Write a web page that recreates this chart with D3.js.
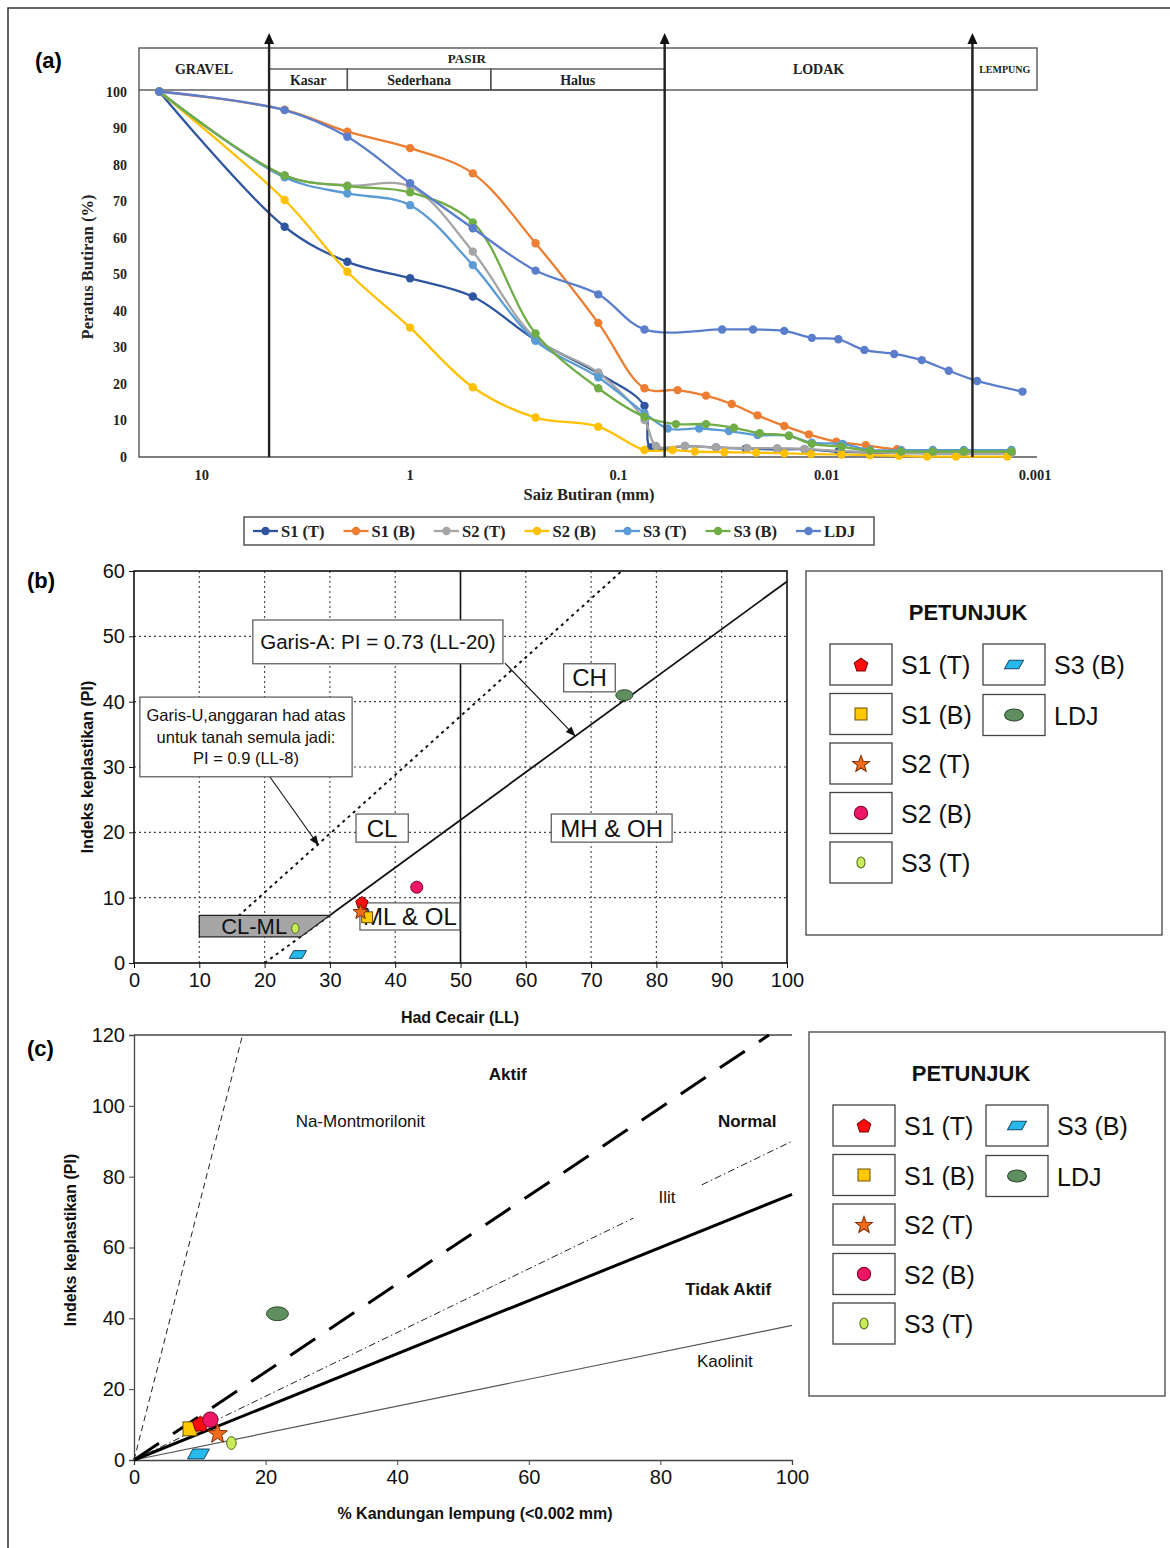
<!DOCTYPE html>
<html>
<head>
<meta charset="utf-8">
<title>Taburan saiz butiran, carta keplastikan dan carta aktiviti</title>
<style>
body { margin: 0; background: #fff; }
</style>
</head>
<body>
<script src="https://d3js.org/d3.v7.min.js"></script>
<script>

// ---------- (a) taburan saiz butiran : [saiz (mm), % melepasi] ----------
var s1T = [[16,100],[4,63.0],[2,53.4],[1,48.9],[0.5,43.9],[0.25,32.0],[0.125,22.9],[0.075,14.0],
  [0.070,2.6],[0.048,3.0],[0.034,2.6],[0.0245,2.3],[0.0173,2.1],[0.0128,2.1],[0.0088,1.5],
  [0.0062,1.2],[0.0044,1.1],[0.0031,1.0],[0.0022,1.0],[0.0013,1.0]];
var s1B = [[16,100],[4,95.0],[2,89.0],[1,84.5],[0.5,77.6],[0.25,58.5],[0.125,36.7],[0.075,18.8],
  [0.052,18.3],[0.038,16.8],[0.0286,14.5],[0.0215,11.4],[0.016,8.5],[0.0122,6.2],[0.009,4.2],
  [0.0065,3.2],[0.0046,2.1],[0.0031,1.6],[0.0022,1.5],[0.0013,1.4]];
var s2T = [[16,100],[4,77.0],[2,74.3],[1,74.0],[0.5,56.2],[0.25,32.5],[0.125,23.1],[0.075,10.1],
  [0.066,3.0],[0.048,3.0],[0.034,2.6],[0.0241,2.4],[0.0173,2.4],[0.0128,2.2],[0.0085,1.6],
  [0.0062,1.3],[0.0044,1.1],[0.0031,1.0],[0.0022,1.0],[0.0013,1.0]];
var s2B = [[16,100],[4,70.3],[2,50.7],[1,35.4],[0.5,19.1],[0.25,10.8],[0.125,8.3],[0.075,1.9],
  [0.055,1.9],[0.043,1.5],[0.031,1.3],[0.0218,1.2],[0.016,1.0],[0.0119,0.8],[0.0085,0.7],
  [0.0062,0.5],[0.0045,0.3],[0.0033,0.1],[0.0024,0.1],[0.00136,0.1]];
var s3T = [[16,100],[4,76.5],[2,72.1],[1,68.9],[0.5,52.5],[0.25,31.8],[0.125,21.8],[0.075,12.0],
  [0.058,7.8],[0.041,7.8],[0.0295,7.1],[0.0215,6.0],[0.0152,5.8],[0.0118,3.9],[0.0084,3.6],
  [0.0062,1.9],[0.0044,1.9],[0.0031,1.9],[0.0022,1.9],[0.0013,1.9]];
var s3B = [[16,100],[4,77.0],[2,74.1],[1,72.4],[0.5,64.2],[0.25,33.8],[0.125,18.8],[0.075,11.0],
  [0.053,9.0],[0.038,9.0],[0.0279,8.0],[0.021,6.5],[0.0152,5.8],[0.0118,3.6],[0.0085,2.8],
  [0.0062,1.7],[0.0044,1.5],[0.0031,1.5],[0.0022,1.5],[0.0013,1.5]];
var ldj = [[16,100],[4,94.9],[2,87.6],[1,74.9],[0.5,62.6],[0.25,51.0],[0.125,44.5],[0.075,34.9],
  [0.0318,34.9],[0.0226,34.9],[0.016,34.5],[0.0118,32.6],[0.0088,32.2],[0.0066,29.3],
  [0.00475,28.2],[0.0035,26.5],[0.0026,23.6],[0.0019,20.8],[0.00115,17.9]];

var sizeTicks = [10, 1, 0.1, 0.01, 0.001];
var pctTicks = [0, 10, 20, 30, 40, 50, 60, 70, 80, 90, 100];
var soilBounds = [4.75, 0.06, 0.002];
var soilClasses = [["GRAVEL", 20, 4.75], ["PASIR", 4.75, 0.06], ["LODAK", 0.06, 0.002], ["LEMPUNG", 0.002, 0.00098]];
var sandClasses = [["Kasar", 4.75, 2], ["Sederhana", 2, 0.41], ["Halus", 0.41, 0.06]];

// ---------- (b) carta keplastikan, (c) carta aktiviti ----------
var sampleNames = ["S1 (T)", "S1 (B)", "S2 (T)", "S2 (B)", "S3 (T)", "S3 (B)", "LDJ"];
var liquidLimit = [34.9, 35.7, 34.7, 43.3, 24.7, 25.1, 75.1];
var plasticityB = [9.3, 7.0, 7.9, 11.6, 5.3, 1.3, 41.0];
var clayContent = [10.1, 8.5, 12.7, 11.6, 14.8, 9.8, 21.8];
var plasticityC = [10.3, 8.8, 7.6, 11.4, 4.8, 1.7, 41.3];

var llTicks = [0, 10, 20, 30, 40, 50, 60, 70, 80, 90, 100];
var piTicksB = [0, 10, 20, 30, 40, 50, 60];
var clayTicks = [0, 20, 40, 60, 80, 100];
var piTicksC = [0, 20, 40, 60, 80, 100, 120];

var aLine = [[30, 7.3], [100, 58.4]];
var aLineLow = [[20, 0], [30, 7.3]];
var uLine = [[16, 7.2], [74.7, 60]];
var llDivide = [[50, 0], [50, 60]];
var clMlZone = [[10, 4], [10, 7.3], [30, 7.3], [25.5, 4]];

var naMontLine = [[0, 0], [16.5, 120]];
var activeLine = [[0, 0], [96.5, 120]];
var illiteLineA = [[0, 0], [75.9, 68.3]];
var illiteLineB = [[86.3, 77.7], [100, 90]];
var normalLine = [[0, 0], [100, 75]];
var kaoliniteLine = [[0, 0], [100, 38]];

var legendCol1 = ["S1 (T)", "S1 (B)", "S2 (T)", "S2 (B)", "S3 (T)"];
var legendCol2 = ["S3 (B)", "LDJ"];

// ---------- gaya ----------
var lineColors = {"S1 (T)": "#2f55a0", "S1 (B)": "#ed7d31", "S2 (T)": "#a5a5a5", "S2 (B)": "#ffc000",
  "S3 (T)": "#5b9bd5", "S3 (B)": "#70ad47", "LDJ": "#5a7ecb"};
var markStyle = {
  "S1 (T)": {kind: "pentagon", fill: "#ff0d0d", stroke: "#7a0000"},
  "S1 (B)": {kind: "square", fill: "#ffc800", stroke: "#6b5200"},
  "S2 (T)": {kind: "star", fill: "#f26a1b", stroke: "#7a2e00"},
  "S2 (B)": {kind: "circle", fill: "#ee1767", stroke: "#7a0024"},
  "S3 (T)": {kind: "oval", fill: "#c8ec5a", stroke: "#4f6b17"},
  "S3 (B)": {kind: "para", fill: "#25b9ec", stroke: "#174a66"},
  "LDJ": {kind: "ellipse", fill: "#5f8f5f", stroke: "#2c4a2c"}
};

var svg = d3.select("body").append("svg")
    .attr("width", 1170)
    .attr("height", 1548)
    .style("font-family", "'Liberation Sans', Arial, sans-serif");

svg.append("defs").append("marker")
    .attr("id", "arrow")
    .attr("viewBox", "0 0 10 10")
    .attr("refX", 9).attr("refY", 5)
    .attr("markerWidth", 10).attr("markerHeight", 9)
    .attr("orient", "auto")
  .append("path").attr("d", "M0,1L10,5L0,9z").attr("fill", "#111");

// bingkai luar
svg.append("path").attr("d", "M8,1548V8H1170")
    .attr("fill", "none").attr("stroke", "#333").attr("stroke-width", 1.5);

function drawMark(g, name, cx, cy, k) {
  var st = markStyle[name];
  var m = g.append("g").attr("transform", "translate(" + cx + "," + cy + ") scale(" + k + ")");
  var shape;
  if (st.kind === "pentagon") {
    var pts = d3.range(5).map(function(i) {
      var a = -Math.PI / 2 + i * 2 * Math.PI / 5;
      return [7.5 * Math.cos(a), 7.5 * Math.sin(a) + 0.8];
    });
    shape = m.append("polygon").attr("points", pts.join(" "));
  } else if (st.kind === "square") {
    shape = m.append("rect").attr("x", -6.3).attr("y", -6.3).attr("width", 12.6).attr("height", 12.6);
  } else if (st.kind === "star") {
    var sp = d3.range(10).map(function(i) {
      var a = -Math.PI / 2 + i * Math.PI / 5, r = i % 2 ? 3.9 : 9.3;
      return [r * Math.cos(a), r * Math.sin(a) + 0.8];
    });
    shape = m.append("polygon").attr("points", sp.join(" "));
  } else if (st.kind === "circle") {
    shape = m.append("circle").attr("r", 7);
  } else if (st.kind === "oval") {
    shape = m.append("ellipse").attr("rx", 4.3).attr("ry", 5.8);
  } else if (st.kind === "para") {
    shape = m.append("polygon").attr("points", "-10,4.5 -5,-4.5 10,-4.5 5,4.5");
  } else {
    shape = m.append("ellipse").attr("rx", 10).attr("ry", 6.3);
  }
  shape.attr("fill", st.fill).attr("stroke", st.stroke).attr("stroke-width", 1 / k);
}

// =================== (a) ===================
var xa = d3.scaleLog().domain([20, 0.00098]).range([139, 1037]);
var ya = d3.scaleLinear().domain([0, 100]).range([457, 91.5]);
var ga = svg.append("g")
    .style("font-family", "'Liberation Serif', 'Times New Roman', serif")
    .style("font-weight", "bold");

svg.append("text").attr("x", 35).attr("y", 68)
    .style("font-size", "22px").style("font-weight", "bold").text("(a)");

// kotak pengelasan tanah
var headTop = 48, headMid = 69, headBot = 90;
ga.selectAll("rect.cls").data(soilClasses).enter().append("rect")
    .attr("x", function(d) { return xa(d[1]); })
    .attr("y", headTop)
    .attr("width", function(d) { return xa(d[2]) - xa(d[1]); })
    .attr("height", headBot - headTop)
    .attr("fill", "#fff").attr("stroke", "#555").attr("stroke-width", 1.4);
ga.selectAll("rect.sand").data(sandClasses).enter().append("rect")
    .attr("x", function(d) { return xa(d[1]); })
    .attr("y", headMid)
    .attr("width", function(d) { return xa(d[2]) - xa(d[1]); })
    .attr("height", headBot - headMid)
    .attr("fill", "none").attr("stroke", "#555").attr("stroke-width", 1.4);
ga.selectAll("text.cls").data(soilClasses).enter().append("text")
    .attr("x", function(d) { return (xa(d[1]) + xa(d[2])) / 2; })
    .attr("y", function(d) { return d[0] === "PASIR" ? 63 : (d[0] === "LEMPUNG" ? 73 : 74); })
    .attr("text-anchor", "middle")
    .style("font-size", function(d) { return d[0] === "LEMPUNG" ? "10px" : (d[0] === "PASIR" ? "13px" : "14px"); })
    .attr("fill", "#222")
    .text(function(d) { return d[0]; });
ga.selectAll("text.sand").data(sandClasses).enter().append("text")
    .attr("x", function(d) { return (xa(d[1]) + xa(d[2])) / 2; })
    .attr("y", 84.5)
    .attr("text-anchor", "middle")
    .style("font-size", "14px")
    .attr("fill", "#222")
    .text(function(d) { return d[0]; });

// paksi
ga.append("path").attr("d", "M" + xa(20) + "," + headBot + "V457H1037")
    .attr("fill", "none").attr("stroke", "#555").attr("stroke-width", 1.4);
ga.selectAll("text.ytick").data(pctTicks).enter().append("text")
    .attr("x", 127).attr("y", function(d) { return ya(d) + 5; })
    .attr("text-anchor", "end").style("font-size", "14px").attr("fill", "#222")
    .text(function(d) { return d; });
ga.selectAll("text.xtick").data(sizeTicks).enter().append("text")
    .attr("x", function(d) { return xa(d); }).attr("y", 480)
    .attr("text-anchor", "middle").style("font-size", "14.5px").attr("fill", "#222")
    .text(function(d) { return d; });
ga.append("text").attr("x", 589).attr("y", 500).attr("text-anchor", "middle")
    .style("font-size", "16.5px").attr("fill", "#222").text("Saiz Butiran (mm)");
ga.append("text").attr("transform", "translate(93,267) rotate(-90)").attr("text-anchor", "middle")
    .style("font-size", "16.5px").attr("fill", "#222").text("Peratus Butiran (%)");

// lengkung taburan
var seriesA = [["S1 (T)", s1T], ["S1 (B)", s1B], ["S2 (T)", s2T], ["S2 (B)", s2B], ["S3 (T)", s3T], ["S3 (B)", s3B], ["LDJ", ldj]];
var curveA = d3.line()
    .x(function(d) { return xa(d[0]); })
    .y(function(d) { return ya(d[1]); })
    .curve(d3.curveCatmullRom.alpha(0.5));
seriesA.forEach(function(s) {
  var g = ga.append("g");
  g.append("path").attr("d", curveA(s[1]))
      .attr("fill", "none").attr("stroke", lineColors[s[0]]).attr("stroke-width", 2.3);
  g.selectAll("circle").data(s[1]).enter().append("circle")
      .attr("cx", function(d) { return xa(d[0]); })
      .attr("cy", function(d) { return ya(d[1]); })
      .attr("r", 4.2).attr("fill", lineColors[s[0]]);
});

// garis sempadan dengan anak panah
soilBounds.forEach(function(b) {
  var x = xa(b);
  ga.append("line").attr("x1", x).attr("x2", x).attr("y1", 40).attr("y2", 457)
      .attr("stroke", "#222").attr("stroke-width", 2.4);
  ga.append("path").attr("d", "M" + (x - 5) + ",44L" + x + ",33L" + (x + 5) + ",44Z").attr("fill", "#111");
});

// petunjuk (a)
var legA = ga.append("g");
legA.append("rect").attr("x", 244).attr("y", 517).attr("width", 630).attr("height", 28)
    .attr("fill", "#fff").attr("stroke", "#555").attr("stroke-width", 1.5);
seriesA.forEach(function(s, i) {
  var x0 = 253 + i * 90.5;
  legA.append("line").attr("x1", x0).attr("x2", x0 + 25).attr("y1", 531).attr("y2", 531)
      .attr("stroke", lineColors[s[0]]).attr("stroke-width", 2.3);
  legA.append("circle").attr("cx", x0 + 12.5).attr("cy", 531).attr("r", 4.2).attr("fill", lineColors[s[0]]);
  legA.append("text").attr("x", x0 + 28).attr("y", 537).style("font-size", "16.5px").attr("fill", "#222").text(s[0]);
});

// =================== petunjuk (b) & (c) ===================
function drawLegend(x0, y0) {
  var g = svg.append("g");
  g.append("rect").attr("x", x0).attr("y", y0).attr("width", 356).attr("height", 364)
      .attr("fill", "#fff").attr("stroke", "#444").attr("stroke-width", 1.3);
  g.append("text").attr("x", x0 + 162).attr("y", y0 + 49).attr("text-anchor", "middle")
      .style("font-size", "22px").style("font-weight", "bold").attr("fill", "#111").text("PETUNJUK");
  function item(name, bx, by) {
    g.append("rect").attr("x", bx).attr("y", by).attr("width", 62).attr("height", 41)
        .attr("fill", "#fff").attr("stroke", "#444").attr("stroke-width", 1.3);
    drawMark(g, name, bx + 31, by + 20.5, 0.95);
    g.append("text").attr("x", bx + 71).attr("y", by + 30).style("font-size", "25px").attr("fill", "#111").text(name);
  }
  legendCol1.forEach(function(n, i) { item(n, x0 + 24, y0 + 73 + i * 49.5); });
  legendCol2.forEach(function(n, i) { item(n, x0 + 177, y0 + 73 + i * 50.5); });
}

// =================== (b) ===================
var xb = d3.scaleLinear().domain([0, 100]).range([134, 787]);
var yb = d3.scaleLinear().domain([0, 60]).range([963, 571]);
var gb = svg.append("g");
svg.append("text").attr("x", 27).attr("y", 588).style("font-size", "22px").style("font-weight", "bold").text("(b)");

gb.selectAll("line.gx").data(llTicks.slice(1, -1)).enter().append("line")
    .attr("x1", function(d) { return xb(d); }).attr("x2", function(d) { return xb(d); })
    .attr("y1", yb(0)).attr("y2", yb(60))
    .attr("stroke", "#444").attr("stroke-width", 1.1).attr("stroke-dasharray", "2,3");
gb.selectAll("line.gy").data(piTicksB.slice(1, -1)).enter().append("line")
    .attr("x1", xb(0)).attr("x2", xb(100))
    .attr("y1", function(d) { return yb(d); }).attr("y2", function(d) { return yb(d); })
    .attr("stroke", "#444").attr("stroke-width", 1.1).attr("stroke-dasharray", "2,3");

var axB = gb.append("g").attr("transform", "translate(0,963)")
    .call(d3.axisBottom(xb).tickValues(llTicks).tickSize(5).tickPadding(5));
var ayB = gb.append("g").attr("transform", "translate(134,0)")
    .call(d3.axisLeft(yb).tickValues(piTicksB).tickSize(5).tickPadding(4));
[axB, ayB].forEach(function(a) {
  a.select(".domain").remove();
  a.selectAll("text").style("font-size", "20px").style("font-family", "'Liberation Sans', Arial, sans-serif").attr("fill", "#111");
  a.selectAll("line").attr("stroke", "#111");
});
gb.append("rect").attr("x", xb(0)).attr("y", yb(60)).attr("width", xb(100) - xb(0)).attr("height", yb(0) - yb(60))
    .attr("fill", "none").attr("stroke", "#111").attr("stroke-width", 1.6);

var lineB = d3.line().x(function(d) { return xb(d[0]); }).y(function(d) { return yb(d[1]); });
gb.append("path").attr("d", lineB(llDivide)).attr("stroke", "#111").attr("stroke-width", 1.6);
gb.append("path").attr("d", lineB(aLineLow)).attr("stroke", "#111").attr("stroke-width", 2).attr("stroke-dasharray", "3,4");
gb.append("path").attr("d", lineB(uLine)).attr("stroke", "#111").attr("stroke-width", 2).attr("stroke-dasharray", "3,4");
gb.append("path").attr("d", lineB(aLine)).attr("stroke", "#111").attr("stroke-width", 1.8);
gb.append("path").attr("d", lineB(clMlZone) + "Z").attr("fill", "#a6a6a6").attr("stroke", "#222").attr("stroke-width", 1.2);

// kotak label
var labelBoxesB = [
  {lines: ["Garis-A: PI = 0.73 (LL-20)"], x0: 18.2, x1: 56.5, y0: 52.5, y1: 45.8, size: 20.5},
  {lines: ["Garis-U,anggaran had atas", "untuk tanah semula jadi:", "PI = 0.9 (LL-8)"], x0: 0.9, x1: 33.4, y0: 40.7, y1: 28.5, size: 16.5},
  {lines: ["CH"], x0: 65.8, x1: 73.7, y0: 45.8, y1: 41.5, size: 24},
  {lines: ["CL"], x0: 34.0, x1: 42.0, y0: 22.8, y1: 18.5, size: 24},
  {lines: ["MH & OH"], x0: 63.9, x1: 82.4, y0: 22.8, y1: 18.5, size: 24},
  {lines: ["ML & OL"], x0: 34.6, x1: 49.9, y0: 9.2, y1: 5.05, size: 24}
];
labelBoxesB.forEach(function(b) {
  var X0 = xb(b.x0), X1 = xb(b.x1), Y0 = yb(b.y0), Y1 = yb(b.y1);
  gb.append("rect").attr("x", X0).attr("y", Y0).attr("width", X1 - X0).attr("height", Y1 - Y0)
      .attr("fill", "#fff").attr("stroke", "#555").attr("stroke-width", 1.2);
  var lh = b.size * 1.3, top = (Y0 + Y1) / 2 - (b.lines.length - 1) * lh / 2;
  b.lines.forEach(function(t, i) {
    gb.append("text").attr("x", (X0 + X1) / 2).attr("y", top + i * lh + b.size * 0.36)
        .attr("text-anchor", "middle").style("font-size", b.size + "px").attr("fill", "#111").text(t);
  });
});
gb.append("text").attr("x", xb(18.4)).attr("y", yb(5.65) + 8)
    .attr("text-anchor", "middle").style("font-size", "22px").attr("fill", "#111").text("CL-ML");

// anak panah
var arrowsB = [[[56.8, 45.9], [67.5, 34.8]], [[20.8, 28.5], [28.2, 18.1]]];
arrowsB.forEach(function(a) {
  gb.append("path").attr("d", lineB(a)).attr("stroke", "#111").attr("stroke-width", 1.1)
      .attr("marker-end", "url(#arrow)");
});

// titik sampel (b)
[1, 0, 3, 2, 4, 5, 6].forEach(function(i) {
  drawMark(gb, sampleNames[i], xb(liquidLimit[i]), yb(plasticityB[i]), 0.86);
});

gb.append("text").attr("x", 460).attr("y", 1023).attr("text-anchor", "middle")
    .style("font-size", "16px").style("font-weight", "bold").attr("fill", "#111").text("Had Cecair (LL)");
gb.append("text").attr("transform", "translate(93,767) rotate(-90)").attr("text-anchor", "middle")
    .style("font-size", "16px").style("font-weight", "bold").attr("fill", "#111").text("Indeks keplastikan (PI)");

drawLegend(806, 571);

// =================== (c) ===================
var xc = d3.scaleLinear().domain([0, 100]).range([134, 792]);
var yc = d3.scaleLinear().domain([0, 120]).range([1460, 1035]);
var gc = svg.append("g");
svg.append("text").attr("x", 27).attr("y", 1056).style("font-size", "22px").style("font-weight", "bold").text("(c)");

var axC = gc.append("g").attr("transform", "translate(0,1460)")
    .call(d3.axisBottom(xc).tickValues(clayTicks).tickSize(5).tickPadding(5));
var ayC = gc.append("g").attr("transform", "translate(134,0)")
    .call(d3.axisLeft(yc).tickValues(piTicksC).tickSize(5).tickPadding(4));
[axC, ayC].forEach(function(a) {
  a.select(".domain").attr("stroke", "#444").attr("stroke-width", 1.3);
  a.selectAll("text").style("font-size", "20px")
      .style("font-family", "'Liberation Sans Narrow', 'Arial Narrow', 'Liberation Sans', sans-serif").attr("fill", "#111");
  a.selectAll("line").attr("stroke", "#444");
});
gc.append("line").attr("x1", xc(0)).attr("x2", xc(100)).attr("y1", yc(120)).attr("y2", yc(120))
    .attr("stroke", "#444").attr("stroke-width", 1.3);

var lineC = d3.line().x(function(d) { return xc(d[0]); }).y(function(d) { return yc(d[1]); });
gc.append("path").attr("d", lineC(kaoliniteLine)).attr("stroke", "#555").attr("stroke-width", 1.2);
gc.append("path").attr("d", lineC(normalLine)).attr("stroke", "#000").attr("stroke-width", 3);
gc.append("path").attr("d", lineC(illiteLineA)).attr("stroke", "#222").attr("stroke-width", 1).attr("stroke-dasharray", "7,3,1.5,3");
gc.append("path").attr("d", lineC(illiteLineB)).attr("stroke", "#222").attr("stroke-width", 1).attr("stroke-dasharray", "7,3,1.5,3");
gc.append("path").attr("d", lineC(activeLine)).attr("stroke", "#000").attr("stroke-width", 3).attr("stroke-dasharray", "30,17");
gc.append("path").attr("d", lineC(naMontLine)).attr("stroke", "#222").attr("stroke-width", 1).attr("stroke-dasharray", "6,4");

var labelsC = [
  {t: "Aktif", x: 56.8, y: 109, bold: true},
  {t: "Na-Montmorilonit", x: 34.4, y: 95.8, bold: false},
  {t: "Normal", x: 93.2, y: 95.8, bold: true},
  {t: "Ilit", x: 81, y: 74.4, bold: false},
  {t: "Tidak Aktif", x: 90.3, y: 48.3, bold: true},
  {t: "Kaolinit", x: 89.8, y: 28, bold: false}
];
gc.selectAll("text.lbl").data(labelsC).enter().append("text")
    .attr("x", function(d) { return xc(d.x); })
    .attr("y", function(d) { return yc(d.y) + 6; })
    .attr("text-anchor", "middle")
    .style("font-size", "17px")
    .style("font-weight", function(d) { return d.bold ? "bold" : "normal"; })
    .attr("fill", "#111")
    .text(function(d) { return d.t; });

[1, 0, 3, 2, 4, 5, 6].forEach(function(i) {
  drawMark(gc, sampleNames[i], xc(clayContent[i]), yc(plasticityC[i]), 1.1);
});

gc.append("text").attr("x", 475).attr("y", 1519).attr("text-anchor", "middle")
    .style("font-size", "16px").style("font-weight", "bold").attr("fill", "#111").text("% Kandungan lempung (<0.002 mm)");
gc.append("text").attr("transform", "translate(76,1240) rotate(-90)").attr("text-anchor", "middle")
    .style("font-size", "16px").style("font-weight", "bold").attr("fill", "#111").text("Indeks keplastikan (PI)");

drawLegend(809, 1032);

</script>
</body>
</html>
